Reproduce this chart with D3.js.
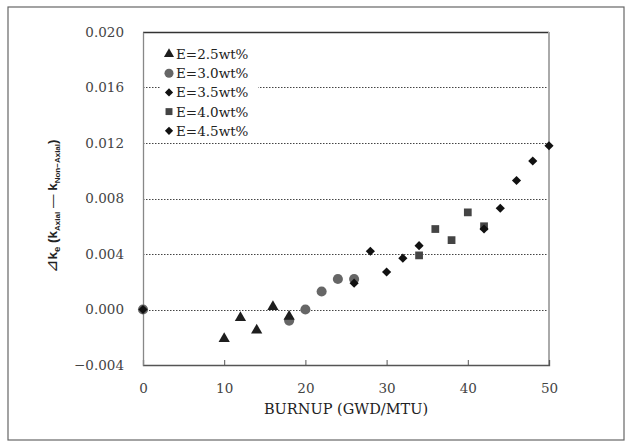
<!DOCTYPE html>
<html><head><meta charset="utf-8">
<script src="https://cdn.jsdelivr.net/npm/d3@7"></script>
<style>body{margin:0;background:#fff}svg{display:block}</style>
</head><body><svg id="chart" width="630" height="441"></svg>
<script>
// Reactivity difference vs. burnup for each enrichment
const burnupE25 = [10, 12, 14, 16, 18];
const dkE25     = [-0.0021, -0.0006, -0.0015, 0.0002, -0.0005];
const burnupE30 = [0, 18, 20, 22, 24, 26];
const dkE30     = [0, -0.0008, 0, 0.0013, 0.0022, 0.0022];
const burnupE35 = [0, 26, 28, 30, 32, 34];
const dkE35     = [0, 0.0019, 0.0042, 0.0027, 0.0037, 0.0046];
const burnupE40 = [34, 36, 38, 40, 42];
const dkE40     = [0.0039, 0.0058, 0.0050, 0.0070, 0.0060];
const burnupE45 = [42, 44, 46, 48, 50];
const dkE45     = [0.0058, 0.0073, 0.0093, 0.0107, 0.0118];
const seriesLabels = ["E=2.5wt%", "E=3.0wt%", "E=3.5wt%", "E=4.0wt%", "E=4.5wt%"];
const xTicks = [0, 10, 20, 30, 40, 50];
const yTicks = [-0.004, 0.000, 0.004, 0.008, 0.012, 0.016, 0.020];
const gridTicks = [0.000, 0.004, 0.008, 0.012, 0.016];

const svg = d3.select("#chart");
const serif = "'DejaVu Serif', 'Liberation Serif', serif";

// outer frame
svg.append("rect").attr("x", 8).attr("y", 7).attr("width", 616).attr("height", 433)
  .attr("fill", "none").attr("stroke", "#666").attr("stroke-width", 1.2);

const L = 143, R = 549, T = 32, B = 365;
const x = d3.scaleLinear().domain([0, 50]).range([L, R]);
const y = d3.scaleLinear().domain([-0.004, 0.020]).range([B, T]);

// dotted grid
svg.append("g").selectAll("line").data(gridTicks).join("line")
  .attr("x1", L).attr("x2", R)
  .attr("y1", d => Math.round(y(d)) + 0.5).attr("y2", d => Math.round(y(d)) + 0.5)
  .attr("stroke", "#444").attr("stroke-width", 1).attr("stroke-dasharray", "1.5,1.5");

// plot frame
svg.append("line").attr("x1", L).attr("x2", R).attr("y1", T + 0.5).attr("y2", T + 0.5)
  .attr("stroke", "#333").attr("stroke-width", 1.3);
svg.append("line").attr("x1", R).attr("x2", R).attr("y1", T).attr("y2", B)
  .attr("stroke", "#aaa").attr("stroke-width", 2);

// axes
const xAxis = d3.axisBottom(x).tickValues(xTicks).tickSize(-5).tickPadding(18)
  .tickFormat(d3.format("d"));
const gx = svg.append("g").attr("transform", `translate(0,${B})`).call(xAxis);
gx.select(".domain").attr("stroke", "#555").attr("stroke-width", 1.3);
gx.selectAll(".tick line").attr("stroke", "#555");
gx.selectAll("text").attr("font-family", serif).attr("font-size", 13.5).attr("fill", "#444");

const yAxis = d3.axisLeft(y).tickValues(yTicks).tickSize(0).tickPadding(19)
  .tickFormat(d3.format(".3f"));
const gy = svg.append("g").attr("transform", `translate(${L},0)`).call(yAxis);
gy.select(".domain").attr("stroke", "#888").attr("stroke-width", 1.3);
gy.selectAll("text").attr("font-family", serif).attr("font-size", 13.5).attr("fill", "#444");

// axis titles
svg.append("text").attr("x", 346).attr("y", 414).attr("text-anchor", "middle")
  .attr("font-family", serif).attr("font-size", 14.5).attr("fill", "#222")
  .text("BURNUP (GWD/MTU)");

const yt = svg.append("text").attr("transform", "translate(57,206) rotate(-90)")
  .attr("text-anchor", "middle").attr("font-family", "'Liberation Sans', Arial, sans-serif")
  .attr("font-weight", "bold").attr("fill", "#222").attr("font-size", 13.5);
yt.append("tspan").attr("font-weight", "normal").attr("font-family", serif).attr("font-size", 16).text("⊿");
yt.append("tspan").text("k");
yt.append("tspan").attr("font-size", 9.5).attr("dy", 3).text("e");
yt.append("tspan").attr("dy", -3).text(" (k");
yt.append("tspan").attr("font-size", 8).attr("dy", 3).text("Axial");
yt.append("tspan").attr("dy", -3).attr("font-weight", "normal").text(" — ");
yt.append("tspan").text("k");
yt.append("tspan").attr("font-size", 8).attr("dy", 3).text("Non−Axial");
yt.append("tspan").attr("dy", -3).text(")");

// marker styles
const styles = [
  { type: d3.symbolTriangle, size: 55, fill: "#1e1e1e", rot: 0 },
  { type: d3.symbolCircle,   size: 80, fill: "#666",    rot: 0 },
  { type: d3.symbolSquare,   size: 42, fill: "#111",    rot: 45 },
  { type: d3.symbolSquare,   size: 60, fill: "#444",    rot: 0 },
  { type: d3.symbolSquare,   size: 42, fill: "#111",    rot: 45 }
];
const series = [
  { xs: burnupE25, ys: dkE25 },
  { xs: burnupE30, ys: dkE30 },
  { xs: burnupE35, ys: dkE35 },
  { xs: burnupE40, ys: dkE40 },
  { xs: burnupE45, ys: dkE45 }
];
const drawOrder = [1, 0, 3, 2, 4];
drawOrder.forEach(i => {
  const st = styles[i];
  const pts = series[i].xs.map((v, j) => [v, series[i].ys[j]]);
  svg.append("g").selectAll("path").data(pts).join("path")
    .attr("d", d3.symbol().type(st.type).size(st.size))
    .attr("transform", d => `translate(${x(d[0])},${y(d[1])}) rotate(${st.rot})`)
    .attr("fill", st.fill);
});

// legend
const lg = svg.append("g");
lg.append("rect").attr("x", 160).attr("y", 43).attr("width", 98).attr("height", 97).attr("fill", "#fff");
seriesLabels.forEach((lab, i) => {
  const yy = 54 + i * 19.2;
  const st = styles[i];
  lg.append("path").attr("d", d3.symbol().type(st.type).size(st.size * 0.8)())
    .attr("transform", `translate(169,${yy}) rotate(${st.rot})`).attr("fill", st.fill);
  lg.append("text").attr("x", 176).attr("y", yy + 5).attr("font-family", serif)
    .attr("font-size", 13.5).attr("fill", "#222").text(lab);
});
</script></body></html>
